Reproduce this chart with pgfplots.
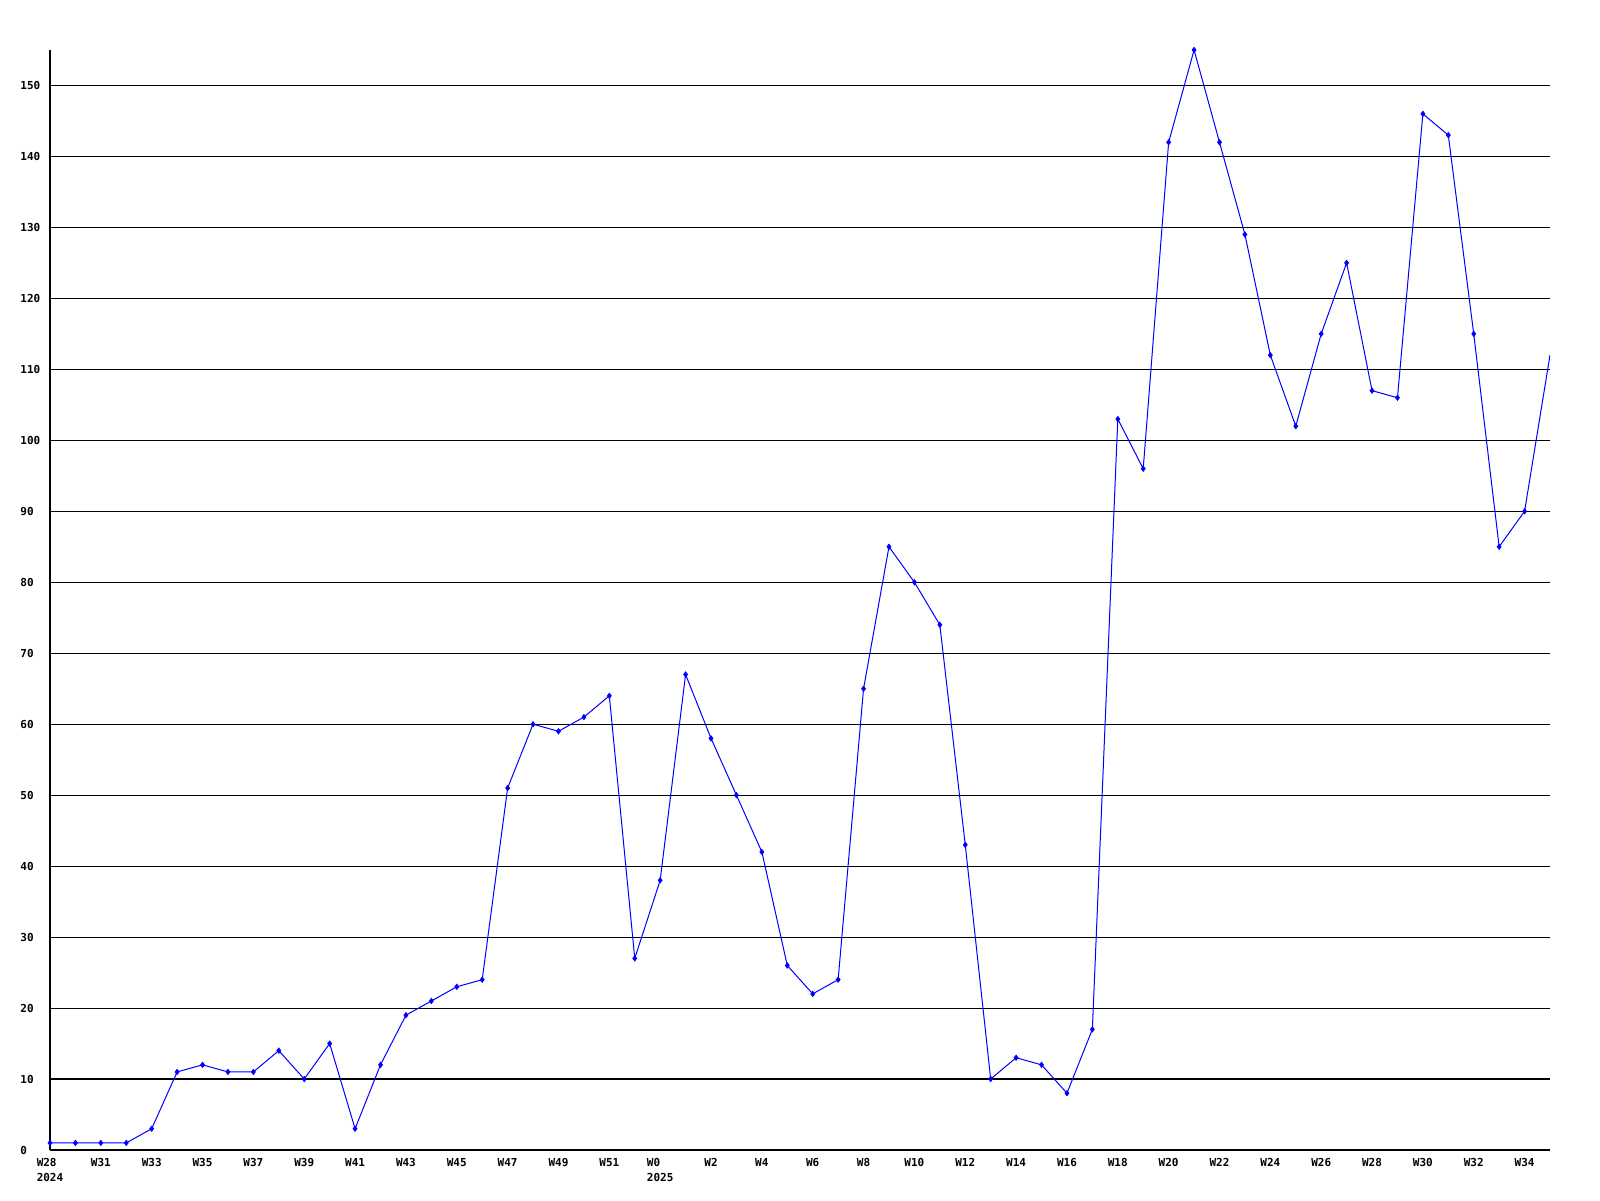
\documentclass[border=0pt]{standalone}
\usepackage{fontspec}
\setmonofont{DejaVu Sans Mono}
\usepackage{pgfplots}
\pgfplotsset{compat=1.18}
\begin{document}
\begin{tikzpicture}
\useasboundingbox (-25pt,-25pt) rectangle (775pt,575pt);
\begin{axis}[
  at={(0pt,0pt)}, anchor=south west,
  scale only axis, width=750pt, height=550pt,
  xmin=0, xmax=59, ymin=0, ymax=155,
  axis x line*=bottom, axis y line*=left,
  axis line style={black, line width=0.6pt, -},
  ymajorgrids, grid style={black, line width=0.55pt},
  ytick={0,10,...,150},
  xtick={0,2,...,58},
  xticklabels={{W28\\2024},W31,W33,W35,W37,W39,W41,W43,W45,W47,W49,W51,{W0\\2025},W2,W4,W6,W8,W10,W12,W14,W16,W18,W20,W22,W24,W26,W28,W30,W32,W34},
  major tick length=0pt,
  tick label style={font=\fontsize{5.5pt}{7.5pt}\selectfont\ttfamily\bfseries},
  /pgf/number format/assume math mode=true,
  xticklabel style={align=left, anchor=north, inner sep=0pt, yshift=-4pt},
  yticklabel style={anchor=west, inner sep=0pt, xshift=-15pt},
  clip=true,
]
\addplot[blue, line width=0.5pt] coordinates {
(0,1)(1,1)(2,1)(3,1)(4,3)(5,11)(6,12)(7,11)(8,11)(9,14)
(10,10)(11,15)(12,3)(13,12)(14,19)(15,21)(16,23)(17,24)(18,51)(19,60)
(20,59)(21,61)(22,64)(23,27)(24,38)(25,67)(26,58)(27,50)(28,42)(29,26)
(30,22)(31,24)(32,65)(33,85)(34,80)(35,74)(36,43)(37,10)(38,13)(39,12)
(40,8)(41,17)(42,103)(43,96)(44,142)(45,155)(46,142)(47,129)(48,112)(49,102)
(50,115)(51,125)(52,107)(53,106)(54,146)(55,143)(56,115)(57,85)(58,90)(59,112)
};
\addplot[blue, only marks, mark=diamond*, mark size=1.3pt] coordinates {
(0,1)(1,1)(2,1)(3,1)(4,3)(5,11)(6,12)(7,11)(8,11)(9,14)
(10,10)(11,15)(12,3)(13,12)(14,19)(15,21)(16,23)(17,24)(18,51)(19,60)
(20,59)(21,61)(22,64)(23,27)(24,38)(25,67)(26,58)(27,50)(28,42)(29,26)
(30,22)(31,24)(32,65)(33,85)(34,80)(35,74)(36,43)(37,10)(38,13)(39,12)
(40,8)(41,17)(42,103)(43,96)(44,142)(45,155)(46,142)(47,129)(48,112)(49,102)
(50,115)(51,125)(52,107)(53,106)(54,146)(55,143)(56,115)(57,85)(58,90)
};
\end{axis}
\end{tikzpicture}
\end{document}
